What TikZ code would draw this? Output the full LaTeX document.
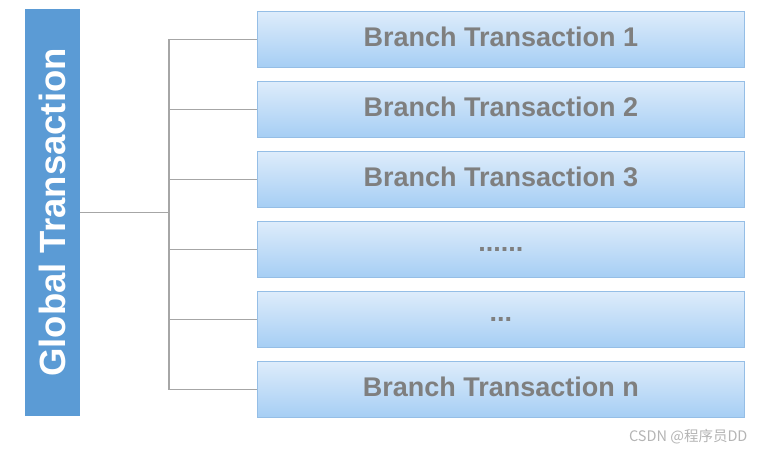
\documentclass[tikz,border=0pt]{standalone}
\usepackage{fontspec}
\setmainfont{Liberation Sans}
\newfontfamily\cjkfont{Noto Sans CJK SC}
\definecolor{globalblue}{HTML}{5B9BD5}
\definecolor{branchtop}{HTML}{DEECFB}
\definecolor{branchbot}{HTML}{A6CEF4}
\definecolor{branchedge}{HTML}{95BEE6}
\definecolor{branchtext}{HTML}{7F7F7F}
\definecolor{linkgrey}{HTML}{A6A6A6}
\definecolor{wmgrey}{HTML}{B4B4B4}
\begin{document}
\begin{tikzpicture}[x=1pt,y=-1pt,
  globalbox/.style={fill=globalblue, draw=none, minimum width=55pt, minimum height=407pt, inner sep=0pt,
    text=white, font=\fontsize{36}{40}\selectfont\bfseries},
  branchbox/.style={top color=branchtop, bottom color=branchbot, draw=branchedge, line width=0.8pt,
    minimum width=487pt, minimum height=56pt, inner sep=0pt, anchor=north west},
  branchlabel/.style={text=branchtext, font=\fontsize{27}{30}\selectfont\bfseries},
  link/.style={draw=linkgrey, line width=1.3pt}]
\useasboundingbox (0,0) rectangle (764,452);
\node[globalbox] (g) at (52.5,212.5) {};
\node[rotate=90, text=white, font=\fontsize{36.5}{40}\selectfont\bfseries] (gt) at (52.5,212.5) {Global Transaction};
\node[branchbox] (b1) at (257,11)  {};
\node[branchbox] (b2) at (257,81)  {};
\node[branchbox] (b3) at (257,151) {};
\node[branchbox] (b4) at (257,221) {};
\node[branchbox] (b5) at (257,291) {};
\node[branchbox] (b6) at (257,361) {};
\node[branchlabel] (t1) at ([yshift=2.5pt]b1.center) {Branch Transaction 1};
\node[branchlabel] (t2) at ([yshift=2.5pt]b2.center) {Branch Transaction 2};
\node[branchlabel] (t3) at ([yshift=2.5pt]b3.center) {Branch Transaction 3};
\node[branchlabel] (t4) at (b4.center) {......};
\node[branchlabel] (t5) at (b5.center) {...};
\node[branchlabel] (t6) at ([yshift=2.5pt]b6.center) {Branch Transaction n};
\coordinate (jct) at (169,212.5);
\draw[link] (g.east) -- (jct);
\foreach \b in {b1,b2,b3,b4,b5,b6}{
  \draw[link] (jct) |- (\b.west);
}
\node[text=wmgrey, font=\cjkfont\fontsize{14.5}{16}\selectfont, anchor=east] (wm) at (751,437) {CSDN @程序员DD};
\end{tikzpicture}
\end{document}
